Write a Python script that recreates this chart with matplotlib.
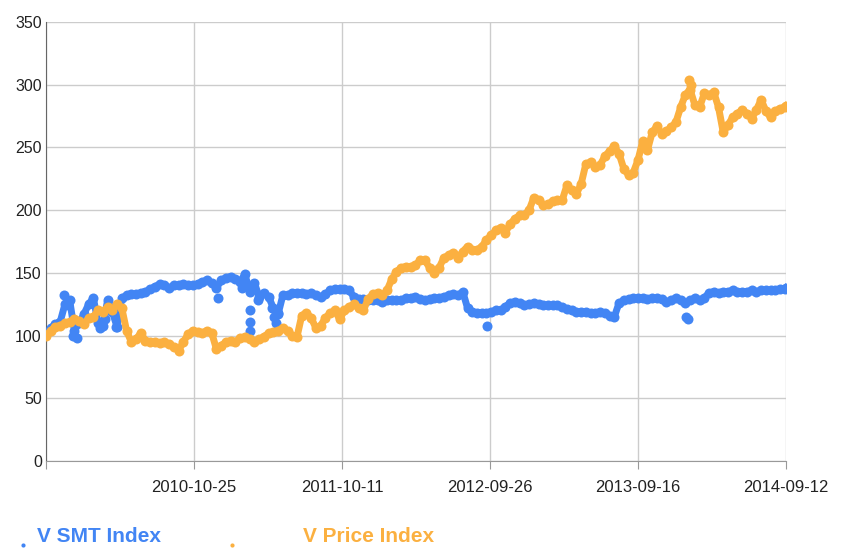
import matplotlib
matplotlib.use("Agg")
import matplotlib.pyplot as plt
from matplotlib.lines import Line2D

plt.rcParams['font.family'] = ['Liberation Sans', 'DejaVu Sans']

# trading-day index, one reading every 8 days
days = list(range(0, 1249, 8)) + [1250]

price_index = [
    100, 104, 107, 108, 110, 111, 113, 112, 109, 114,
    115, 120, 119, 123, 120, 125, 122, 104, 95, 97,
    102, 96, 95, 95, 94, 95, 93, 91, 88, 95,
    101, 104, 103, 102, 104, 102, 89, 92, 95, 96,
    95, 98, 99, 97, 95, 97, 99, 102, 103, 104,
    106, 104, 100, 99, 116, 118, 114, 106, 108, 114,
    118, 120, 113, 120, 123, 125, 122, 120, 129, 133,
    134, 132, 136, 145, 151, 154, 155, 155, 156, 160,
    160, 154, 150, 154, 162, 164, 166, 162, 167, 171,
    168, 168, 171, 176, 180, 184, 186, 182, 189, 193,
    196, 196, 200, 210, 208, 204, 205, 207, 208, 208,
    220, 216, 213, 221, 237, 238, 234, 236, 243, 247,
    251, 245, 233, 228, 230, 240, 255, 248, 262, 267,
    261, 263, 266, 270, 282, 292, 296, 284, 282, 293,
    292, 294, 282, 262, 268, 274, 277, 280, 277, 273,
    280, 288, 279, 274, 279, 281, 282, 283,
]

smt_index = [
    101, 106, 109, 111, 125, 128, 104, 110, 117, 125,
    130, 110, 108, 128, 119, 107, 130, 132, 133, 133,
    134, 135, 137, 139, 141, 140, 138, 140, 140, 141,
    140, 140, 141, 143, 144, 142, 138, 144, 146, 147,
    145, 143, 149, 135, 142, 131, 134, 131, 122, 117,
    132, 132, 134, 134, 134, 133, 134, 132, 131, 133,
    136, 137, 137, 137, 136, 131, 129, 129, 128, 128,
    128, 127, 128, 128, 128, 128, 130, 130, 131, 129,
    128, 129, 130, 130, 131, 132, 133, 132, 135, 122,
    119, 118, 118, 118, 119, 120, 120, 123, 126, 127,
    126, 124, 125, 126, 125, 124, 124, 124, 124, 123,
    121, 120, 119, 119, 119, 118, 118, 119, 118, 116,
    115, 126, 128, 129, 130, 130, 130, 129, 130, 130,
    129, 127, 128, 130, 128, 126, 128, 130, 128, 130,
    134, 135, 134, 135, 135, 136, 135, 135, 135, 136,
    135, 136, 136, 136, 136, 137, 137, 138,
]

# stray readings off the main trail
smt_extra_days = [22, 30, 38, 45, 52, 92, 100, 112, 118, 291, 331, 345, 345, 345, 358, 382, 385, 388, 392, 745, 1081, 1085]
smt_extra_vals = [110, 132, 124, 100, 98, 106, 113, 121, 107, 130, 138, 120, 111, 104, 128, 122, 115, 110, 118, 108, 115, 113]
price_extra_days = [1086, 1090]
price_extra_vals = [304, 300]

tick_days = [0, 250, 500, 750, 1000, 1250]
tick_labels = ['', '2010-10-25', '2011-10-11', '2012-09-26', '2013-09-16', '2014-09-12']

blue = '#4285f4'
orange = '#fbb040'

fig = plt.figure(figsize=(8.49, 5.48), dpi=100)
ax = fig.add_axes([46 / 849, 87 / 548, 740 / 849, 439 / 548])

ms = 7.2
# the daily points sit so close they read as a band: a thick trail plus the dots
ax.plot(days, smt_index, '-o', color=blue, lw=5, ms=ms, mew=0, zorder=3)
ax.plot(smt_extra_days, smt_extra_vals, 'o', color=blue, ms=ms, mew=0, zorder=3)
ax.plot(days, price_index, '-o', color=orange, lw=5, ms=ms, mew=0, zorder=4)
ax.plot(price_extra_days, price_extra_vals, 'o', color=orange, ms=ms, mew=0, zorder=4)

ax.set_xlim(0, 1250)
ax.set_ylim(0, 350)
ax.set_yticks(range(0, 351, 50))
ax.set_xticks(tick_days)
ax.set_xticklabels(tick_labels)
ax.grid(True, color='#cccccc', linewidth=1)
ax.set_axisbelow(True)

for s in ['top', 'right']:
    ax.spines[s].set_visible(False)
ax.spines['left'].set_color('#666666')
ax.spines['bottom'].set_color('#999999')
ax.tick_params(axis='x', length=6, color='#999999', labelsize=12, pad=8, labelcolor='#222222')
ax.tick_params(axis='y', length=0, labelsize=11.5, pad=3, labelcolor='#222222')

# legend at the bottom
fig.add_artist(Line2D([23 / 849], [1 - 545 / 548], marker='o', color=blue, ms=3, mew=0,
                      transform=fig.transFigure))
fig.text(37 / 849, 1 - 536 / 548, 'V SMT Index', color=blue, fontsize=15, fontweight='bold',
         va='center', ha='left')
fig.add_artist(Line2D([232 / 849], [1 - 545 / 548], marker='o', color=orange, ms=3, mew=0,
                      transform=fig.transFigure))
fig.text(303 / 849, 1 - 536 / 548, 'V Price Index', color=orange, fontsize=15, fontweight='bold',
         va='center', ha='left')

fig.savefig('out.png', dpi=100)
